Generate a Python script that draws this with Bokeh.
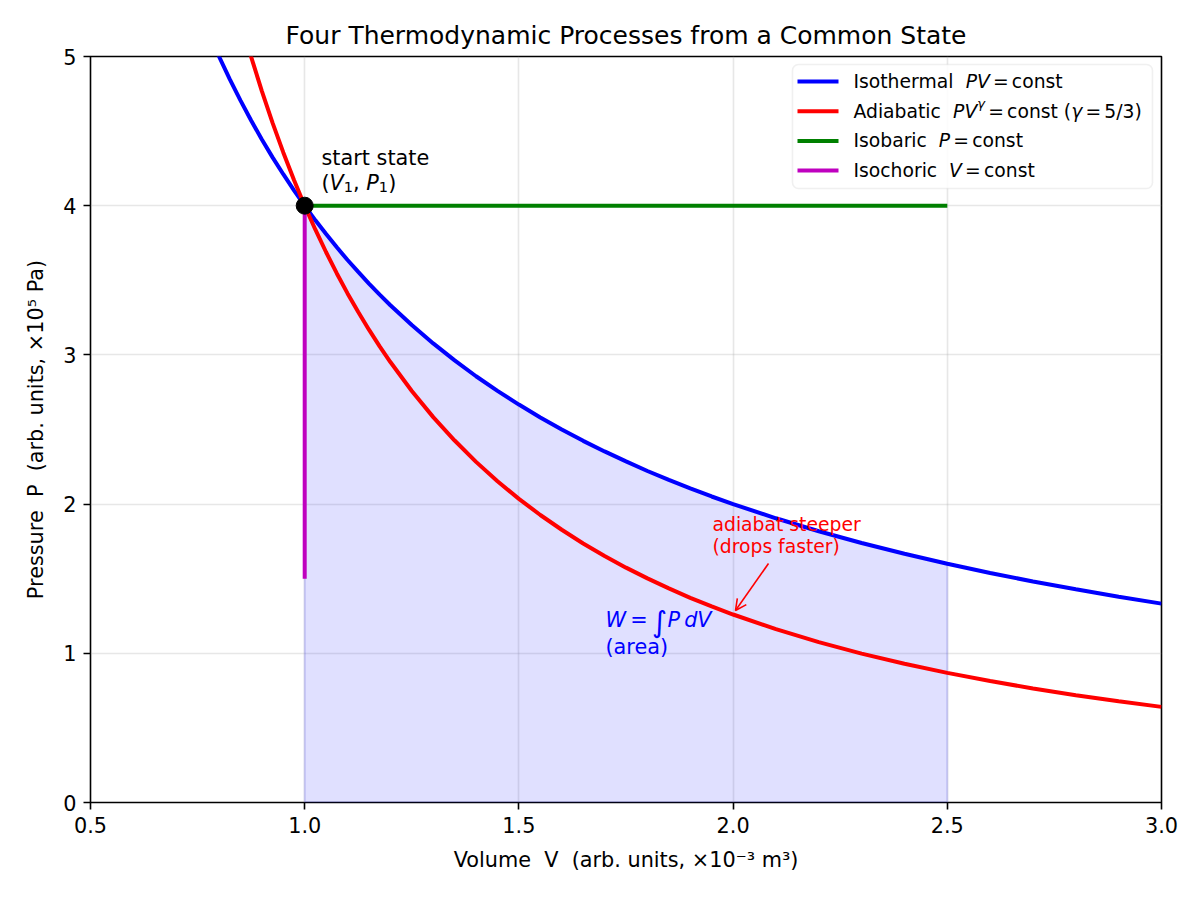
from bokeh.plotting import figure
from bokeh.models import Range1d, FixedTicker, PrintfTickFormatter, Arrow, OpenHead, BoxAnnotation
from bokeh.core.properties import value
from bokeh.embed import file_html
from bokeh.resources import INLINE

# ---- data -------------------------------------------------------------
# start state
V1, P1 = 1.0, 4.0

# isothermal branch, P*V = const
V_iso = [0.75, 0.775, 0.80, 0.825, 0.85, 0.875, 0.90, 0.925, 0.95, 0.975, 1.00, 1.025,
         1.05, 1.075, 1.10, 1.125, 1.15, 1.175, 1.20, 1.25, 1.30, 1.35, 1.40, 1.45,
         1.50, 1.55, 1.60, 1.65, 1.70, 1.75, 1.80, 1.85, 1.90, 1.95, 2.00, 2.10,
         2.20, 2.30, 2.40, 2.50, 2.60, 2.70, 2.80, 2.90, 3.00]
P_iso = [5.333, 5.161, 5.000, 4.848, 4.706, 4.571, 4.444, 4.324, 4.211, 4.103, 4.000, 3.902,
         3.810, 3.721, 3.636, 3.556, 3.478, 3.404, 3.333, 3.200, 3.077, 2.963, 2.857, 2.759,
         2.667, 2.581, 2.500, 2.424, 2.353, 2.286, 2.222, 2.162, 2.105, 2.051, 2.000, 1.905,
         1.818, 1.739, 1.667, 1.600, 1.538, 1.481, 1.429, 1.379, 1.333]

# adiabatic branch, P*V^gamma = const (gamma = 5/3)
V_adi = [0.85, 0.875, 0.90, 0.925, 0.95, 0.975, 1.00, 1.025, 1.05, 1.075, 1.10, 1.125,
         1.15, 1.175, 1.20, 1.25, 1.30, 1.35, 1.40, 1.45, 1.50, 1.55, 1.60, 1.65,
         1.70, 1.75, 1.80, 1.85, 1.90, 1.95, 2.00, 2.10, 2.20, 2.30, 2.40, 2.50,
         2.60, 2.70, 2.80, 2.90, 3.00]
P_adi = [5.244, 4.997, 4.768, 4.555, 4.357, 4.172, 4.000, 3.839, 3.688, 3.546, 3.412, 3.287,
         3.169, 3.057, 2.952, 2.758, 2.583, 2.426, 2.283, 2.153, 2.035, 1.927, 1.828, 1.736,
         1.652, 1.574, 1.502, 1.435, 1.372, 1.314, 1.260, 1.162, 1.075, 0.998, 0.930, 0.869,
         0.814, 0.764, 0.719, 0.678, 0.641]

# isobaric and isochoric branches
V_bar = [1.0, 2.5]
P_bar = [4.0, 4.0]
V_cho = [1.0, 1.0]
P_cho = [4.0, 1.5]

# work integral bounds
W_lo, W_hi = 1.0, 2.5

x_ticks = [0.5, 1.0, 1.5, 2.0, 2.5, 3.0]
y_ticks = [0, 1, 2, 3, 4, 5]

# ---- layout helpers ----------------------------------------------------
FONT = "DejaVu Sans"
NB = "\u00a0"
W_PX, H_PX = 1200, 900
FL, FR, FT, FB = 90, 1161, 56, 802
XMIN, XMAX, YMIN, YMAX = 0.5, 3.0, 0.0, 5.0


def X(px):
    return XMIN + (px - FL) / (FR - FL) * (XMAX - XMIN)


def Y(py):
    return YMIN + (FB - py) / (FB - FT) * (YMAX - YMIN)


# DejaVu Sans advance widths (units per em = 2048)
ADV = {" ": 651, "(": 799, ")": 799, ",": 651, ".": 651, "/": 690, "=": 1716,
       "A": 1401, "I": 604, "P": 1235, "V": 1401, "W": 2025,
       "a": 1255, "b": 1300, "c": 1126, "d": 1300, "e": 1260, "f": 721, "h": 1298,
       "i": 569, "l": 569, "m": 1995, "n": 1298, "o": 1253, "p": 1300, "r": 842,
       "s": 1067, "t": 803, "u": 1298, "y": 1212, "\u03b3": 1212, "\u222b": 1100}
for d in "0123456789":
    ADV[d] = 1303

N, I = "normal", "italic"
GAP = ("", N, 0.17, 0.0)        # math-style spacing around relations


def text_width(s, size):
    return sum(ADV.get(ch, 1200) for ch in s) / 2048.0 * size


def rich(p, x_px, y_px, runs, size, color="black"):
    """Draw a line of mixed upright/italic runs starting at x_px with baseline near y_px."""
    off = 0.0
    for txt, style, scale, rise in runs:
        if txt == "":
            off += scale * size
            continue
        fs = size * scale
        p.text(x=[X(x_px)], y=[Y(y_px)], text=[txt.replace(" ", NB)], x_offset=off,
               y_offset=-rise * size,
               text_font=value(FONT), text_font_size=f"{fs:.2f}px", text_font_style=style,
               text_color=color, text_align="left", text_baseline="alphabetic")
        off += text_width(txt, fs)


# ---- figure ------------------------------------------------------------
p = figure(width=W_PX, height=H_PX, output_backend="svg", toolbar_location=None,
           x_range=Range1d(XMIN, XMAX), y_range=Range1d(YMIN, YMAX),
           min_border_left=FL, min_border_right=W_PX - FR,
           min_border_top=FT, min_border_bottom=H_PX - FB,
           title="Four Thermodynamic Processes from a Common State")
p.background_fill_color = "white"
p.border_fill_color = "white"
p.outline_line_color = "black"
p.outline_line_width = 1.6

p.title.align = "center"
p.title.text_font = FONT
p.title.text_font_size = "25px"
p.title.text_font_style = "normal"
p.title.text_color = "black"
p.title.standoff = 13

for ax in (p.xaxis[0], p.yaxis[0]):
    ax.axis_line_color = None
    ax.major_tick_line_color = "black"
    ax.major_tick_line_width = 1.6
    ax.major_tick_out = 7
    ax.major_tick_in = 0
    ax.minor_tick_out = 0
    ax.minor_tick_in = 0
    ax.major_label_text_font = FONT
    ax.major_label_text_font_size = "20.8px"
    ax.major_label_text_color = "black"
    ax.major_label_standoff = 7
    ax.axis_label_text_font = FONT
    ax.axis_label_text_font_size = "20.8px"
    ax.axis_label_text_font_style = "normal"
    ax.axis_label_text_color = "black"

p.xaxis.ticker = FixedTicker(ticks=x_ticks)
p.yaxis.ticker = FixedTicker(ticks=y_ticks)
p.xaxis.formatter = PrintfTickFormatter(format="%.1f")
p.yaxis.formatter = PrintfTickFormatter(format="%d")
p.xaxis.axis_label = f"Volume {NB}V {NB}(arb. units, \u00d710\u207b\u00b3 m\u00b3)"
p.yaxis.axis_label = f"Pressure {NB}P {NB}(arb. units, \u00d710\u2075 Pa)"
p.xaxis.axis_label_standoff = 12
p.yaxis.axis_label_standoff = 12

p.xgrid.ticker = FixedTicker(ticks=x_ticks)
p.ygrid.ticker = FixedTicker(ticks=y_ticks)
for g in (p.xgrid[0], p.ygrid[0]):
    g.grid_line_color = "#b0b0b0"
    g.grid_line_alpha = 0.3
    g.grid_line_width = 1.6

# shaded work area under the isotherm between W_lo and W_hi
area_v = [v for v in V_iso if W_lo <= v <= W_hi]
area_p = [P_iso[V_iso.index(v)] for v in area_v]
p.patch(area_v + [W_hi, W_lo], area_p + [0.0, 0.0],
        fill_color="blue", fill_alpha=0.12, line_color="blue", line_alpha=0.12, line_width=2)

# process curves
LW = 4
p.line(V_iso, P_iso, line_color="#0000ff", line_width=LW)
p.line(V_adi, P_adi, line_color="#ff0000", line_width=LW)
p.line(V_bar, P_bar, line_color="#008000", line_width=LW)
p.line(V_cho, P_cho, line_color="#bf00bf", line_width=LW)
p.scatter([V1], [P1], size=17, color="black")

# start-state annotation
rich(p, 321, 157, [("start state", N, 1.0, 0.0)], 20.8)
rich(p, 321, 182, [("(", N, 1.0, 0.0), ("V", I, 1.0, 0.0),
                   ("1", N, 0.7, -0.2), (", ", N, 1.0, 0.0),
                   ("P", I, 1.0, 0.0), ("1", N, 0.7, -0.2),
                   (")", N, 1.0, 0.0)], 20.8)

# adiabat note with arrow
rich(p, 712, 524, [("adiabat steeper", N, 1.0, 0.0)], 18.75, color="red")
rich(p, 712, 546, [("(drops faster)", N, 1.0, 0.0)], 18.75, color="red")
p.add_layout(Arrow(end=OpenHead(size=11, line_color="red", line_width=1.6),
                   x_start=X(768), y_start=Y(563), x_end=X(735), y_end=Y(610),
                   line_color="red", line_width=1.6))

# work label
rich(p, 605, 619, [("W", I, 1.0, 0.0), ("", N, 0.2, 0.0), ("=", N, 1.0, 0.0),
                   ("", N, 0.2, 0.0), ("\u222b", N, 1.4, -0.13), ("P", I, 1.0, 0.0),
                   ("", N, 0.2, 0.0), ("dV", I, 1.0, 0.0)], 20.8, color="blue")
rich(p, 605, 646, [("(area)", N, 1.0, 0.0)], 20.8, color="blue")

# legend panel
LG_L, LG_R, LG_T, LG_B = 792, 1152, 64, 188
p.add_layout(BoxAnnotation(left=X(LG_L), right=X(LG_R), top=Y(LG_T), bottom=Y(LG_B),
                           fill_color="white", fill_alpha=0.85, level="underlay",
                           line_color="#cccccc", line_width=1.6, border_radius=6))
legend_rows = [
    ("#0000ff", [("Isothermal  ", N, 1.0, 0.0), ("PV", I, 1.0, 0.0), GAP,
                 ("=", N, 1.0, 0.0), GAP, ("const", N, 1.0, 0.0)]),
    ("#ff0000", [("Adiabatic  ", N, 1.0, 0.0), ("PV", I, 1.0, 0.0),
                 ("\u03b3", I, 0.7, 0.42), GAP, ("=", N, 1.0, 0.0), GAP,
                 ("const (", N, 1.0, 0.0), ("\u03b3", I, 1.0, 0.0), GAP,
                 ("=", N, 1.0, 0.0), GAP, ("5/3)", N, 1.0, 0.0)]),
    ("#008000", [("Isobaric  ", N, 1.0, 0.0), ("P", I, 1.0, 0.0), GAP,
                 ("=", N, 1.0, 0.0), GAP, ("const", N, 1.0, 0.0)]),
    ("#bf00bf", [("Isochoric  ", N, 1.0, 0.0), ("V", I, 1.0, 0.0), GAP,
                 ("=", N, 1.0, 0.0), GAP, ("const", N, 1.0, 0.0)]),
]
for i, (col, runs) in enumerate(legend_rows):
    cy = 81 + i * 29.7
    p.line([X(797), X(838)], [Y(cy), Y(cy)], line_color=col, line_width=LW)
    rich(p, 853, cy, runs, 18.75)

open("out.html", "w").write(file_html(p, INLINE))
